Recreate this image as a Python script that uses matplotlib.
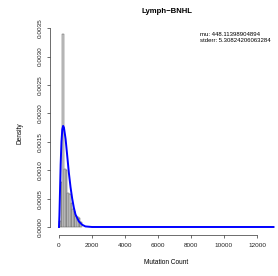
import numpy as np
import matplotlib
matplotlib.use("Agg")
import matplotlib.pyplot as plt

plt.rcParams["font.family"] = ["Liberation Sans", "DejaVu Sans"]

# histogram (density), bin width 100
bin_left = [0, 100, 200, 300, 400, 500, 600, 700, 800, 900, 1000, 1100, 1200, 1300]
bin_density = [0.0001, 0.0008, 0.0034, 0.00102, 0.00100, 0.0006, 0.00058, 0.00042,
               0.00032, 0.00028, 0.0002, 0.00018, 0.00016, 0.00008]

# fitted curve
curve_x = [0, 25, 50, 100, 150, 200, 250, 300, 400, 500, 600, 700, 800, 900,
           1000, 1200, 1400, 1600, 2000, 13000]
curve_y = [0.0, 0.0002, 0.0005, 0.0011, 0.0015, 0.00172, 0.00178, 0.00175, 0.00155,
           0.00125, 0.00095, 0.0007, 0.0005, 0.00034, 0.00022, 0.0001, 0.00004,
           0.00001, 0.0, 0.0]

x_ticks = [0, 2000, 4000, 6000, 8000, 10000, 12000]
y_ticks = [0.0, 0.0005, 0.001, 0.0015, 0.002, 0.0025, 0.003, 0.0035]

W, H = 278, 276
fig = plt.figure(figsize=(W / 100, H / 100), dpi=100)
ax = fig.add_axes([50 / W, 41 / H, 232 / W, 211 / H])

ax.bar(bin_left, bin_density, width=100, align="edge", color="#d3d3d3",
       edgecolor="#5a5a5a", linewidth=0.35)
ax.plot(curve_x, curve_y, color="#0000ff", linewidth=1.4)

ax.set_xlim(-545, 13515)
ax.set_ylim(-0.000141, 0.003574)

for s in ["top", "right"]:
    ax.spines[s].set_visible(False)
ax.spines["left"].set_bounds(0, 0.0035)
ax.spines["bottom"].set_bounds(0, 12000)
for s in ["left", "bottom"]:
    ax.spines[s].set_linewidth(0.5)
    ax.spines[s].set_color("#333333")

ax.set_xticks(x_ticks)
ax.set_xticklabels([str(t) for t in x_ticks])
ax.set_yticks(y_ticks)
ax.set_yticklabels(["%.4f" % t for t in y_ticks])
ax.tick_params(axis="both", labelsize=4.6, length=2.5, width=0.5, color="#333333",
               labelcolor="#222222")
ax.tick_params(axis="x", pad=3.5)
ax.tick_params(axis="y", pad=3)
for lab in ax.get_yticklabels():
    lab.set_rotation(90)
    lab.set_va("center")
    lab.set_ha("right")

fig.text(20 / W, 1 - 133 / H, "Density", rotation=90, fontsize=4.7, ha="center", va="center")
fig.text(166 / W, 1 - 263 / H, "Mutation Count", fontsize=4.7, ha="center", va="center")
fig.text(167 / W, 1 - 11.5 / H, "Lymph\u2212BNHL", fontsize=5.6, fontweight="bold",
         ha="center", va="center")
fig.text(200 / W, 1 - 34 / H, "mu: 448.11398904894", fontsize=4.3, ha="left", va="center")
fig.text(200 / W, 1 - 40.5 / H, "stderr: 5.30824206063284", fontsize=4.3, ha="left", va="center")

fig.savefig("out.png", dpi=100)
